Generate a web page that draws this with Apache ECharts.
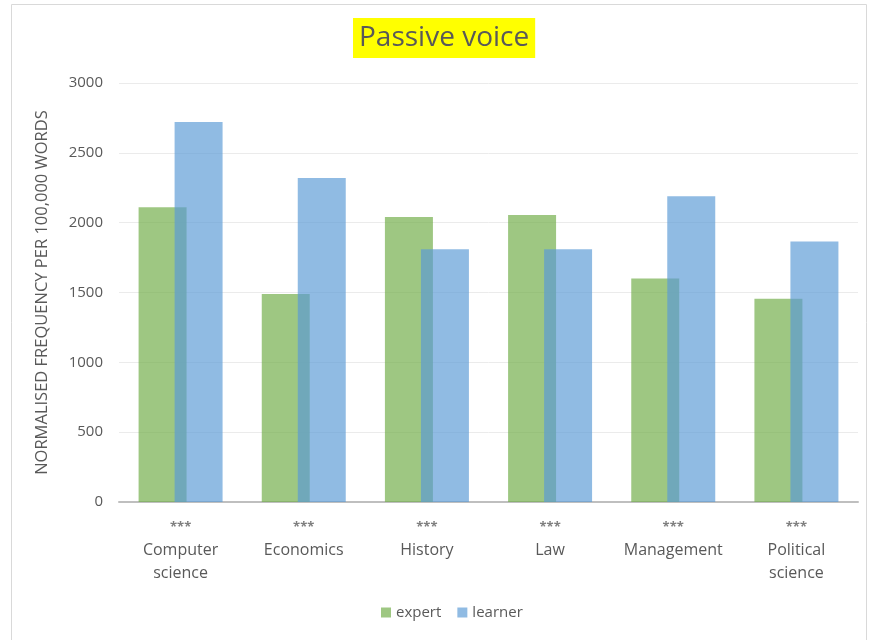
<!DOCTYPE html>
<html>
<head>
<meta charset="utf-8">
<script src="https://cdn.jsdelivr.net/npm/echarts@6/dist/echarts.min.js"></script>
<style>
  html, body { margin: 0; padding: 0; background: #fff; }
  #main { width: 870px; height: 640px; }
</style>
</head>
<body>
<div id="main"></div>
<script>
// 类别和数据
const categories = ['Computer\nscience', 'Economics', 'History', 'Law', 'Management', 'Political\nscience']
const significance = ['***', '***', '***', '***', '***', '***']
const expert = [2110, 1490, 2040, 2055, 1600, 1455]
const learner = [2720, 2320, 1810, 1810, 2190, 1865]
const yTicks = [0, 500, 1000, 1500, 2000, 2500, 3000]

const myChart = echarts.init(document.getElementById('main'))
const txt = '#595959'
const font = 'Open Sans'

myChart.setOption({
  animation: false,
  textStyle: { fontFamily: font },
  title: {
    text: 'Passive voice',
    left: 353,
    top: 18,
    padding: [4, 6, 4, 6],
    backgroundColor: '#ffff00',
    textStyle: { color: txt, fontSize: 28, lineHeight: 32, fontWeight: 'normal', fontFamily: font }
  },
  graphic: [{
    type: 'rect',
    shape: { x: 11.5, y: 4.5, width: 855, height: 650 },
    style: { fill: 'none', stroke: '#d9d9d9', lineWidth: 1 }
  }],
  legend: {
    bottom: 15,
    left: 376,
    itemWidth: 10,
    itemHeight: 10,
    itemGap: 16,
    icon: 'rect',
    textStyle: { color: txt, fontSize: 15 },
    data: ['expert', 'learner']
  },
  grid: { left: 119, right: 12, top: 83, bottom: 138 },
  xAxis: {
    type: 'category',
    data: categories,
    axisLine: { lineStyle: { color: '#bfbfbf', width: 2 } },
    axisTick: { show: false },
    axisLabel: {
      margin: 13,
      interval: 0,
      formatter: function (value, idx) {
        const lines = value.split('\n').map(s => '{n|' + s + '}').join('\n')
        return '{d|' + significance[idx] + '}\n' + lines
      },
      rich: {
        d: { color: '#7f7f7f', fontSize: 13, fontWeight: 'bold', lineHeight: 24, fontFamily: font },
        n: { color: txt, fontSize: 16, lineHeight: 23, fontFamily: font }
      }
    }
  },
  yAxis: {
    type: 'value',
    min: yTicks[0],
    max: yTicks[yTicks.length - 1],
    interval: 500,
    name: 'NORMALISED FREQUENCY PER 100,000 WORDS',
    nameLocation: 'middle',
    nameGap: 68,
    nameTextStyle: { color: txt, fontSize: 16.5, fontFamily: font },
    axisLine: { show: false },
    axisTick: { show: false },
    axisLabel: { color: txt, fontSize: 15, margin: 16, formatter: v => String(v) },
    splitLine: { lineStyle: { color: '#ebebeb' } }
  },
  color: ['#70ad47', '#5b9bd5'],
  series: [
    {
      name: 'expert',
      type: 'bar',
      data: expert,
      barWidth: 48,
      barGap: '-25%',
      itemStyle: { opacity: 0.68 }
    },
    {
      name: 'learner',
      type: 'bar',
      data: learner,
      barWidth: 48,
      barGap: '-25%',
      itemStyle: { opacity: 0.68 }
    }
  ]
})
</script>
</body>
</html>
